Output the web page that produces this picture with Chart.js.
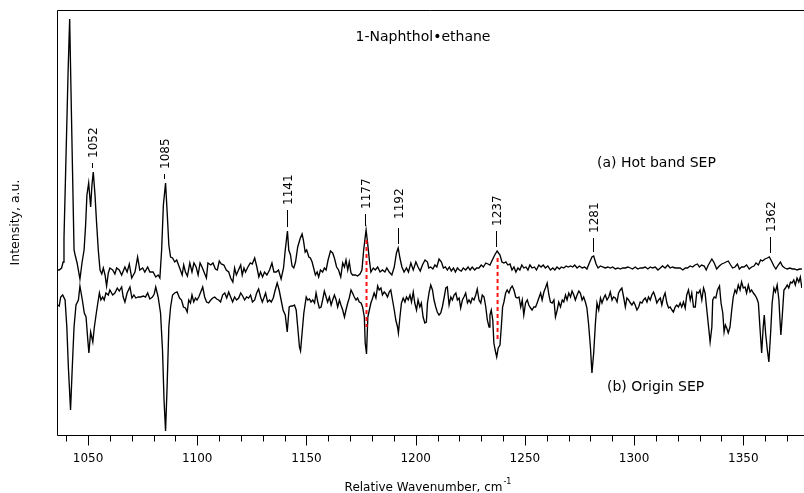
<!DOCTYPE html>
<html>
<head>
<meta charset="utf-8">
<title>1-Naphthol•ethane SEP</title>
<script src="https://cdn.jsdelivr.net/npm/chart.js@4.4.1/dist/chart.umd.min.js"></script>
<style>
  html, body { margin: 0; padding: 0; background: #fff; }
  #wrap { width: 804px; height: 493px; }
</style>
</head>
<body>
<div id="wrap"><canvas id="sep" width="804" height="493"></canvas></div>
<script>
// --- spectra (relative wavenumber in cm-1, intensity in a.u.) ---
const hotCm = [
  1036.1, 1036.8, 1037.9, 1038.6, 1039.0, 1040.0, 1040.9, 1041.6, 1042.2, 1042.9,
  1043.6, 1044.1, 1045.0, 1046.3, 1047.3, 1048.2, 1048.9, 1049.5, 1050.3, 1051.2,
  1051.8, 1052.4, 1053.2, 1053.9, 1054.7, 1055.5, 1056.3, 1057.0, 1057.8, 1058.5,
  1059.3, 1060.0, 1061.3, 1062.3, 1063.1, 1064.3, 1065.4, 1066.9, 1067.9, 1068.9,
  1070.0, 1071.5, 1072.7, 1073.7, 1075.0, 1076.0, 1077.3, 1078.3, 1079.8, 1081.0,
  1082.1, 1082.9, 1083.7, 1084.5, 1085.5, 1086.3, 1087.0, 1087.8, 1088.7, 1089.7,
  1090.6, 1092.3, 1093.1, 1093.8, 1094.6, 1095.5, 1096.6, 1097.6, 1098.5, 1099.5,
  1100.4, 1101.3, 1102.2, 1103.1, 1104.2, 1104.9, 1106.2, 1107.2, 1108.3, 1109.2,
  1110.1, 1111.0, 1112.2, 1113.3, 1114.4, 1115.3, 1116.3, 1117.1, 1117.9, 1118.9,
  1119.9, 1120.6, 1121.4, 1122.1, 1123.2, 1124.3, 1125.2, 1126.3, 1127.3, 1128.2,
  1129.0, 1129.9, 1130.8, 1131.9, 1133.1, 1134.2, 1135.1, 1136.2, 1137.2, 1138.4,
  1139.5, 1140.3, 1141.3, 1141.9, 1142.7, 1143.4, 1144.2, 1145.0, 1146.0, 1147.2,
  1148.0, 1148.6, 1149.4, 1150.1, 1151.1, 1151.8, 1152.6, 1153.3, 1154.1, 1154.9,
  1155.6, 1156.4, 1157.4, 1158.2, 1159.0, 1159.9, 1161.0, 1162.0, 1162.8, 1163.8,
  1164.7, 1165.7, 1166.6, 1167.4, 1168.1, 1168.9, 1169.6, 1170.4, 1171.1, 1172.4,
  1173.4, 1174.5, 1175.4, 1176.2, 1177.3, 1178.0, 1178.8, 1179.5, 1180.6, 1181.5,
  1182.6, 1183.7, 1184.8, 1185.9, 1186.8, 1187.9, 1189.1, 1190.2, 1191.2, 1192.0,
  1192.8, 1193.7, 1194.7, 1195.8, 1196.7, 1197.8, 1198.9, 1200.1, 1201.1, 1202.1,
  1203.1, 1204.3, 1205.4, 1206.0, 1206.9, 1207.9, 1208.8, 1209.7, 1210.7, 1211.8,
  1212.7, 1213.6, 1214.5, 1215.4, 1216.3, 1217.3, 1218.2, 1219.1, 1220.0, 1220.9,
  1221.8, 1222.9, 1224.0, 1224.9, 1225.9, 1227.0, 1227.9, 1229.0, 1230.0, 1231.0,
  1232.1, 1233.1, 1234.0, 1235.1, 1236.2, 1237.3, 1238.6, 1239.5, 1240.4, 1241.3,
  1242.2, 1243.2, 1244.1, 1245.0, 1245.9, 1246.8, 1247.7, 1248.6, 1249.5, 1250.5,
  1251.4, 1252.3, 1253.3, 1254.4, 1255.3, 1256.4, 1257.4, 1258.4, 1259.4, 1260.5,
  1261.7, 1262.8, 1263.7, 1264.7, 1265.8, 1266.7, 1267.8, 1268.9, 1269.8, 1270.9,
  1271.9, 1272.8, 1273.9, 1275.0, 1276.2, 1277.4, 1278.4, 1279.5, 1280.7, 1281.5,
  1282.6, 1283.5, 1284.6, 1285.6, 1286.8, 1288.0, 1289.1, 1290.2, 1291.4, 1292.6,
  1293.7, 1294.7, 1296.0, 1297.2, 1298.3, 1299.3, 1300.5, 1301.7, 1302.8, 1303.9,
  1305.1, 1306.3, 1307.4, 1308.4, 1309.7, 1310.9, 1312.0, 1313.0, 1314.2, 1315.4,
  1316.5, 1317.6, 1318.8, 1319.5, 1321.1, 1322.3, 1323.4, 1324.4, 1325.7, 1326.8,
  1327.9, 1329.0, 1329.9, 1330.9, 1332.1, 1333.0, 1334.0, 1335.6, 1336.7, 1337.8,
  1339.0, 1340.1, 1341.2, 1342.1, 1343.1, 1344.2, 1345.1, 1346.2, 1347.3, 1348.2,
  1349.2, 1350.3, 1351.5, 1352.7, 1353.8, 1354.9, 1355.8, 1356.9, 1357.9, 1358.8,
  1359.9, 1361.0, 1361.9, 1362.9, 1364.0, 1364.9, 1366.0, 1367.0, 1367.9, 1369.0,
  1370.1, 1371.3, 1372.5, 1373.5, 1374.6, 1375.8, 1376.8
];
const hotSignal = [
  1.65, 1.65, 1.67, 1.73, 1.97, 2.85, 3.65, 4.16, 3.45, 2.65,
  1.85, 1.80, 1.72, 1.56, 1.73, 1.85, 2.10, 2.40, 2.52, 2.28,
  2.50, 2.63, 2.40, 2.13, 1.85, 1.65, 1.61, 1.67, 1.60, 1.49,
  1.62, 1.67, 1.65, 1.61, 1.67, 1.65, 1.60, 1.68, 1.63, 1.71,
  1.57, 1.63, 1.78, 1.65, 1.67, 1.63, 1.68, 1.63, 1.63, 1.58,
  1.60, 1.57, 1.85, 2.30, 2.52, 2.20, 1.90, 1.78, 1.77, 1.73,
  1.75, 1.65, 1.60, 1.70, 1.63, 1.59, 1.72, 1.63, 1.72, 1.68,
  1.60, 1.72, 1.68, 1.63, 1.57, 1.72, 1.70, 1.72, 1.66, 1.65,
  1.74, 1.71, 1.70, 1.65, 1.63, 1.57, 1.53, 1.67, 1.60, 1.65,
  1.70, 1.60, 1.67, 1.63, 1.68, 1.72, 1.71, 1.77, 1.68, 1.58,
  1.63, 1.58, 1.63, 1.60, 1.65, 1.72, 1.63, 1.63, 1.65, 1.56,
  1.67, 1.85, 2.04, 1.85, 1.80, 1.69, 1.67, 1.73, 1.88, 1.97,
  2.01, 1.95, 1.83, 1.85, 1.78, 1.77, 1.73, 1.67, 1.60, 1.63,
  1.58, 1.65, 1.63, 1.67, 1.65, 1.75, 1.84, 1.82, 1.77, 1.68,
  1.65, 1.58, 1.72, 1.68, 1.75, 1.65, 1.73, 1.62, 1.60, 1.60,
  1.59, 1.61, 1.65, 1.85, 2.05, 1.92, 1.75, 1.63, 1.67, 1.65,
  1.68, 1.63, 1.65, 1.63, 1.67, 1.63, 1.60, 1.68, 1.82, 1.87,
  1.77, 1.68, 1.63, 1.67, 1.63, 1.72, 1.65, 1.73, 1.68, 1.64,
  1.70, 1.75, 1.73, 1.67, 1.68, 1.66, 1.70, 1.68, 1.76, 1.73,
  1.67, 1.68, 1.65, 1.68, 1.64, 1.67, 1.63, 1.67, 1.65, 1.64,
  1.67, 1.65, 1.68, 1.65, 1.68, 1.65, 1.67, 1.67, 1.70, 1.68,
  1.72, 1.71, 1.70, 1.75, 1.80, 1.84, 1.80, 1.73, 1.72, 1.73,
  1.70, 1.71, 1.65, 1.68, 1.63, 1.67, 1.65, 1.70, 1.67, 1.68,
  1.65, 1.70, 1.67, 1.68, 1.65, 1.70, 1.68, 1.70, 1.67, 1.69,
  1.65, 1.67, 1.65, 1.68, 1.66, 1.68, 1.67, 1.69, 1.68, 1.69,
  1.68, 1.70, 1.67, 1.69, 1.67, 1.68, 1.66, 1.72, 1.78, 1.79,
  1.71, 1.67, 1.69, 1.68, 1.67, 1.68, 1.67, 1.68, 1.66, 1.67,
  1.66, 1.67, 1.67, 1.68, 1.67, 1.66, 1.68, 1.66, 1.67, 1.67,
  1.68, 1.66, 1.68, 1.67, 1.68, 1.65, 1.67, 1.69, 1.67, 1.70,
  1.67, 1.68, 1.67, 1.67, 1.67, 1.65, 1.67, 1.67, 1.69, 1.68,
  1.70, 1.71, 1.68, 1.70, 1.69, 1.65, 1.70, 1.76, 1.72, 1.66,
  1.69, 1.71, 1.72, 1.73, 1.74, 1.70, 1.67, 1.68, 1.71, 1.66,
  1.68, 1.68, 1.70, 1.66, 1.68, 1.69, 1.72, 1.70, 1.75, 1.74,
  1.76, 1.77, 1.78, 1.74, 1.69, 1.66, 1.70, 1.73, 1.69, 1.67,
  1.66, 1.67, 1.66, 1.66, 1.65, 1.66, 1.66
];

const originCm = [
  1036.1, 1036.8, 1037.5, 1038.4, 1039.5, 1040.3, 1041.0, 1042.0, 1042.8, 1043.6,
  1044.5, 1045.6, 1046.3, 1047.4, 1048.3, 1049.1, 1049.9, 1050.4, 1051.2, 1052.2,
  1052.9, 1054.0, 1055.2, 1055.9, 1056.7, 1057.4, 1058.2, 1059.3, 1060.0, 1061.3,
  1062.3, 1063.4, 1064.3, 1065.4, 1066.1, 1066.9, 1067.9, 1069.2, 1070.1, 1071.0,
  1071.9, 1073.0, 1074.1, 1075.3, 1076.3, 1077.3, 1078.3, 1079.5, 1080.3, 1081.0,
  1082.1, 1083.2, 1084.1, 1084.8, 1085.5, 1086.2, 1087.0, 1087.8, 1088.7, 1089.7,
  1090.8, 1091.9, 1092.8, 1093.7, 1094.6, 1095.4, 1096.1, 1096.9, 1097.6, 1098.4,
  1099.2, 1099.9, 1100.7, 1101.6, 1102.5, 1103.4, 1104.3, 1105.2, 1106.2, 1107.1,
  1108.0, 1108.9, 1109.8, 1110.7, 1111.6, 1112.6, 1113.5, 1114.4, 1115.3, 1116.2,
  1117.1, 1118.0, 1119.0, 1119.9, 1120.8, 1121.7, 1122.6, 1123.5, 1124.4, 1125.3,
  1126.3, 1127.2, 1128.1, 1129.0, 1129.8, 1130.5, 1131.3, 1132.2, 1133.1, 1133.9,
  1134.8, 1135.7, 1136.6, 1137.5, 1138.4, 1139.3, 1140.3, 1141.2, 1142.1, 1143.0,
  1143.7, 1144.5, 1145.3, 1146.0, 1146.8, 1147.3, 1148.0, 1148.8, 1149.9, 1150.6,
  1151.4, 1152.1, 1152.9, 1153.7, 1154.4, 1155.2, 1155.9, 1156.7, 1157.4, 1158.2,
  1159.0, 1159.7, 1160.5, 1161.3, 1162.0, 1162.8, 1163.6, 1164.3, 1165.1, 1165.8,
  1166.6, 1167.4, 1168.1, 1168.9, 1169.6, 1170.4, 1171.1, 1171.9, 1172.7, 1173.4,
  1174.2, 1175.0, 1175.7, 1176.5, 1176.9, 1177.5, 1178.1, 1178.8, 1179.5, 1180.3,
  1181.0, 1181.8, 1182.6, 1183.3, 1184.1, 1184.8, 1185.6, 1186.4, 1187.1, 1187.9,
  1188.6, 1189.4, 1190.2, 1190.9, 1191.7, 1192.1, 1192.8, 1193.5, 1194.3, 1195.1,
  1195.8, 1196.6, 1197.4, 1198.1, 1198.9, 1199.6, 1200.4, 1201.1, 1201.9, 1202.6,
  1203.4, 1204.2, 1204.9, 1205.4, 1206.2, 1206.9, 1207.7, 1208.4, 1209.2, 1209.9,
  1210.7, 1211.5, 1212.2, 1213.0, 1213.8, 1214.5, 1215.3, 1216.1, 1216.8, 1217.6,
  1218.4, 1219.1, 1219.9, 1220.6, 1221.4, 1222.1, 1222.9, 1223.7, 1224.4, 1225.2,
  1225.9, 1226.7, 1227.5, 1228.2, 1229.0, 1229.8, 1230.5, 1231.3, 1232.1, 1232.8,
  1233.6, 1234.0, 1234.6, 1235.3, 1235.8, 1236.4, 1237.1, 1237.8, 1238.6, 1239.2,
  1239.8, 1240.4, 1241.2, 1241.9, 1242.7, 1243.5, 1244.2, 1245.0, 1245.8, 1246.5,
  1247.3, 1248.1, 1248.8, 1249.5, 1250.3, 1251.1, 1251.8, 1252.6, 1253.3, 1254.1,
  1254.9, 1255.6, 1256.4, 1257.2, 1257.9, 1258.7, 1259.4, 1260.2, 1261.0, 1261.7,
  1262.5, 1263.3, 1264.0, 1264.8, 1265.5, 1266.3, 1267.1, 1267.8, 1268.6, 1269.3,
  1270.1, 1270.9, 1271.6, 1272.4, 1273.1, 1273.9, 1274.7, 1275.4, 1276.2, 1276.9,
  1277.7, 1278.4, 1279.2, 1280.0, 1280.7, 1281.5, 1282.3, 1283.0, 1283.8, 1284.6,
  1285.3, 1286.1, 1286.8, 1287.6, 1288.4, 1289.1, 1289.9, 1290.6, 1291.4, 1292.2,
  1292.9, 1293.7, 1294.4, 1295.2, 1296.0, 1296.7, 1297.5, 1298.3, 1299.0, 1299.8,
  1300.5, 1301.3, 1302.1, 1302.8, 1303.6, 1304.3, 1305.1, 1305.9, 1306.6, 1307.4,
  1308.1, 1308.9, 1309.7, 1310.4, 1311.2, 1312.0, 1312.7, 1313.5, 1314.2, 1315.0,
  1315.8, 1316.5, 1317.3, 1318.0, 1318.8, 1319.5, 1320.3, 1321.1, 1321.8, 1322.6,
  1323.4, 1324.1, 1324.9, 1325.7, 1326.4, 1327.2, 1328.0, 1328.7, 1329.5, 1330.2,
  1331.0, 1331.8, 1332.5, 1333.3, 1334.1, 1334.8, 1335.6, 1336.0, 1336.7, 1337.4,
  1338.2, 1339.1, 1339.8, 1340.6, 1341.2, 1341.8, 1342.4, 1343.1, 1343.9, 1344.7,
  1345.4, 1346.2, 1346.9, 1347.7, 1348.5, 1349.2, 1350.0, 1350.8, 1351.5, 1352.3,
  1353.1, 1353.8, 1354.6, 1355.3, 1356.1, 1356.9, 1357.6, 1358.4, 1359.1, 1359.6,
  1360.2, 1361.0, 1361.7, 1362.5, 1363.2, 1364.0, 1364.7, 1365.5, 1366.3, 1366.7,
  1367.2, 1367.8, 1368.6, 1369.3, 1370.1, 1370.8, 1371.6, 1372.3, 1373.1, 1373.8,
  1374.6, 1375.4, 1376.1, 1376.8
];
const originSignal = [
  1.30, 1.29, 1.38, 1.40, 1.35, 1.08, 0.68, 0.25, 0.68, 1.08,
  1.30, 1.35, 1.49, 1.35, 1.22, 1.18, 0.95, 0.82, 1.03, 0.93,
  1.08, 1.25, 1.42, 1.35, 1.38, 1.35, 1.42, 1.40, 1.45, 1.40,
  1.42, 1.47, 1.44, 1.48, 1.38, 1.33, 1.42, 1.48, 1.37, 1.40,
  1.37, 1.38, 1.38, 1.39, 1.38, 1.42, 1.36, 1.38, 1.41, 1.48,
  1.38, 1.22, 0.85, 0.35, 0.04, 0.48, 1.08, 1.28, 1.40, 1.42,
  1.43, 1.37, 1.35, 1.28, 1.27, 1.23, 1.35, 1.32, 1.40, 1.33,
  1.37, 1.35, 1.38, 1.43, 1.48, 1.38, 1.33, 1.32, 1.35, 1.37,
  1.38, 1.36, 1.35, 1.33, 1.40, 1.42, 1.37, 1.43, 1.38, 1.33,
  1.38, 1.35, 1.37, 1.42, 1.39, 1.35, 1.38, 1.37, 1.40, 1.33,
  1.35, 1.42, 1.46, 1.38, 1.33, 1.37, 1.42, 1.33, 1.35, 1.33,
  1.37, 1.45, 1.52, 1.45, 1.35, 1.25, 1.20, 1.03, 1.28, 1.29,
  1.29, 1.30, 1.25, 1.08, 0.88, 0.84, 1.02, 1.22, 1.38, 1.35,
  1.36, 1.33, 1.35, 1.32, 1.42, 1.33, 1.27, 1.28, 1.35, 1.44,
  1.38, 1.33, 1.38, 1.30, 1.35, 1.40, 1.35, 1.28, 1.35, 1.30,
  1.25, 1.18, 1.25, 1.32, 1.37, 1.45, 1.42, 1.38, 1.35, 1.37,
  1.33, 1.32, 1.28, 1.18, 0.92, 0.81, 1.18, 1.25, 1.32, 1.37,
  1.42, 1.37, 1.49, 1.45, 1.47, 1.40, 1.43, 1.41, 1.38, 1.43,
  1.45, 1.35, 1.25, 1.15, 1.08, 1.02, 1.18, 1.32, 1.37, 1.33,
  1.38, 1.35, 1.40, 1.33, 1.43, 1.32, 1.25, 1.35, 1.28, 1.32,
  1.18, 1.12, 1.13, 1.32, 1.43, 1.50, 1.45, 1.35, 1.28, 1.23,
  1.20, 1.22, 1.28, 1.37, 1.47, 1.48, 1.30, 1.38, 1.35, 1.40,
  1.42, 1.35, 1.37, 1.27, 1.35, 1.38, 1.42, 1.32, 1.35, 1.32,
  1.37, 1.35, 1.40, 1.46, 1.35, 1.32, 1.40, 1.38, 1.28, 1.15,
  1.08, 1.20, 1.25, 1.15, 0.92, 0.85, 0.78, 0.87, 0.90, 1.08,
  1.28, 1.33, 1.42, 1.45, 1.42, 1.47, 1.49, 1.45, 1.38, 1.37,
  1.38, 1.28, 1.35, 1.20, 1.32, 1.35, 1.30, 1.27, 1.25, 1.28,
  1.28, 1.32, 1.37, 1.42, 1.35, 1.43, 1.47, 1.52, 1.40, 1.33,
  1.32, 1.35, 1.18, 1.25, 1.33, 1.28, 1.35, 1.33, 1.40, 1.35,
  1.42, 1.38, 1.44, 1.40, 1.35, 1.40, 1.44, 1.42, 1.35, 1.38,
  1.33, 1.27, 1.10, 0.88, 0.62, 0.82, 1.12, 1.32, 1.25, 1.37,
  1.32, 1.37, 1.40, 1.35, 1.38, 1.43, 1.35, 1.38, 1.37, 1.33,
  1.42, 1.45, 1.47, 1.38, 1.28, 1.37, 1.35, 1.32, 1.30, 1.33,
  1.30, 1.25, 1.28, 1.33, 1.32, 1.35, 1.37, 1.33, 1.38, 1.35,
  1.40, 1.43, 1.38, 1.32, 1.35, 1.37, 1.30, 1.38, 1.42, 1.32,
  1.27, 1.28, 1.25, 1.23, 1.28, 1.30, 1.28, 1.32, 1.28, 1.33,
  1.27, 1.40, 1.45, 1.35, 1.42, 1.28, 1.28, 1.43, 1.42, 1.45,
  1.35, 1.47, 1.42, 1.25, 1.08, 0.93, 1.08, 1.35, 1.38, 1.37,
  1.45, 1.49, 1.32, 1.22, 1.03, 1.10, 1.07, 1.02, 1.08, 1.25,
  1.38, 1.45, 1.42, 1.50, 1.45, 1.53, 1.47, 1.48, 1.42, 1.50,
  1.43, 1.45, 1.42, 1.40, 1.37, 1.32, 1.08, 0.82, 1.08, 1.20,
  1.02, 0.85, 0.73, 1.02, 1.32, 1.47, 1.43, 1.50, 1.35, 1.18,
  1.00, 1.18, 1.45, 1.47, 1.50, 1.47, 1.53, 1.52, 1.55, 1.50,
  1.57, 1.53, 1.58, 1.47
];

// assigned bands of the hot band trace
const bandLabels = [1052, 1085, 1141, 1177, 1192, 1237, 1281, 1362];
// bands common to both traces, joined by a dashed guide
const linkCm = [1177.5, 1237.5];
const linkFrom = [1.95, 1.77];
const linkTo = [1.08, 0.95];

const xMin = 1035.8, xMax = 1376.9;
const yMin = 0, yMax = 4.25;
const FONT = '"DejaVu Sans", Verdana, sans-serif';

const toPoints = (xs, ys) => xs.map((v, i) => ({ x: v, y: ys[i] }));

const datasets = linkCm.map((cm, i) => ({
    label: 'link ' + cm,
    data: [{ x: cm, y: linkFrom[i] }, { x: cm, y: linkTo[i] }],
    borderColor: '#ff1414',
    borderWidth: 2,
    borderDash: [4, 3],
    order: 0
}));
datasets.push({ label: '(a) Hot band SEP', data: toPoints(hotCm, hotSignal), borderColor: '#000', borderWidth: 1.35, order: 1 });
datasets.push({ label: '(b) Origin SEP', data: toPoints(originCm, originSignal), borderColor: '#000', borderWidth: 1.35, order: 1 });

// frame, tick marks, band labels and free text
const decorations = {
    id: 'decorations',
    afterDraw(chart, args, opts) {
        const { ctx, chartArea: a, scales: { x, y } } = chart;
        ctx.save();
        ctx.strokeStyle = '#000';
        ctx.fillStyle = '#000';
        ctx.lineWidth = 1;

        // box: top, left and bottom axis lines
        ctx.beginPath();
        ctx.moveTo(chart.width, a.top + 0.5);
        ctx.lineTo(a.left + 0.5, a.top + 0.5);
        ctx.lineTo(a.left + 0.5, a.bottom + 0.5);
        ctx.lineTo(chart.width, a.bottom + 0.5);
        ctx.stroke();

        // major / minor ticks hang below the axis
        x.ticks.forEach(t => {
            const px = Math.round(x.getPixelForValue(t.value)) + 0.5;
            const len = t.value % 50 === 0 ? opts.majorTick : opts.minorTick;
            ctx.beginPath();
            ctx.moveTo(px, a.bottom + 0.5);
            ctx.lineTo(px, a.bottom + 0.5 + len);
            ctx.stroke();
        });

        // band labels with a short stem above each peak
        ctx.font = '12px ' + FONT;
        bandLabels.forEach(cm => {
            let top = -Infinity;
            hotCm.forEach((v, i) => { if (Math.abs(v - cm) <= 1.2) top = Math.max(top, hotSignal[i]); });
            const px = Math.round(x.getPixelForValue(cm)) + 0.5;
            const stemBottom = y.getPixelForValue(top) - 4;
            const stemTop = stemBottom - (opts.stems[cm] || 15);
            ctx.beginPath();
            ctx.moveTo(px, stemBottom);
            ctx.lineTo(px, stemTop);
            ctx.stroke();
            ctx.save();
            ctx.translate(px + 1, stemTop - (opts.textGap[cm] || 5));
            ctx.rotate(-Math.PI / 2);
            ctx.textAlign = 'left';
            ctx.textBaseline = 'middle';
            ctx.fillText(String(cm), 0, 0);
            ctx.restore();
        });

        // title and trace names
        ctx.font = '14px ' + FONT;
        ctx.textBaseline = 'middle';
        ctx.textAlign = 'center';
        ctx.fillText('1-Naphthol\u2022ethane', 423, 37);
        ctx.textAlign = 'left';
        ctx.fillText('(a) Hot band SEP', 597, 163);
        ctx.fillText('(b) Origin SEP', 607, 387);

        // y axis title
        ctx.font = '12.5px ' + FONT;
        ctx.save();
        ctx.translate(16, (a.top + a.bottom) / 2);
        ctx.rotate(-Math.PI / 2);
        ctx.textAlign = 'center';
        ctx.fillText('Intensity, a.u.', 0, 0);
        ctx.restore();

        // x axis title with superscript unit
        ctx.font = '12px ' + FONT;
        ctx.textBaseline = 'alphabetic';
        ctx.textAlign = 'left';
        const main = 'Relative Wavenumber, cm';
        const w = ctx.measureText(main).width;
        const x0 = (a.left + a.right) / 2 - (w + 8) / 2 - 2;
        ctx.fillText(main, x0, 491);
        ctx.font = '8px ' + FONT;
        ctx.fillText('-1', x0 + w + 1, 484);
        ctx.restore();
    }
};

new Chart(document.getElementById('sep'), {
    type: 'line',
    data: { datasets },
    options: {
        responsive: false,
        animation: false,
        devicePixelRatio: 1,
        parsing: false,
        normalized: true,
        layout: { padding: { left: 57, top: 10, right: 0, bottom: 0 } },
        elements: {
            point: { radius: 0 },
            line: { tension: 0, fill: false }
        },
        plugins: {
            legend: { display: false },
            tooltip: { enabled: false },
            decorations: {
                majorTick: 10,
                minorTick: 6,
                stems: { 1052: 5, 1085: 5, 1141: 17, 1177: 12, 1192: 16, 1237: 16, 1281: 14, 1362: 16 },
                textGap: { 1192: 9 }
            }
        },
        scales: {
            x: {
                type: 'linear',
                min: xMin,
                max: xMax,
                border: { display: false },
                grid: { display: false, drawTicks: false },
                ticks: {
                    stepSize: 10,
                    includeBounds: false,
                    autoSkip: false,
                    maxRotation: 0,
                    padding: 17,
                    color: '#000',
                    font: { family: FONT, size: 12 },
                    callback: v => (v % 50 === 0 ? String(v) : '')
                },
                afterFit: s => { s.height = 58; }
            },
            y: { display: false, min: yMin, max: yMax }
        }
    },
    plugins: [decorations]
});
</script>
</body>
</html>
